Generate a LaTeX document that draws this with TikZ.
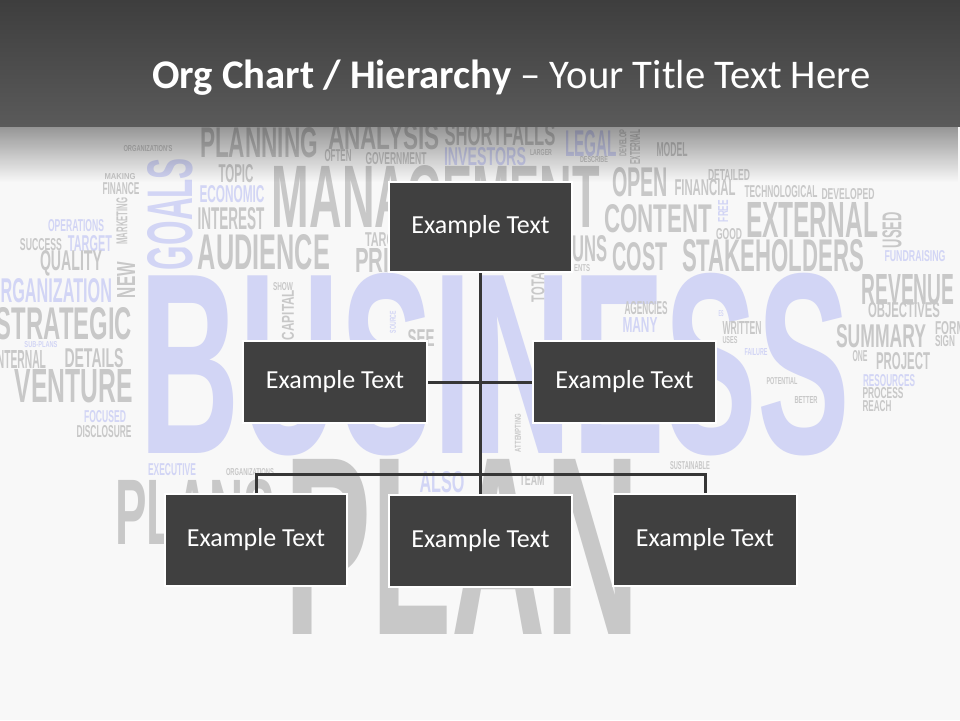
\documentclass[tikz,border=0pt]{standalone}
\usepackage{fontspec}
\usepackage{graphicx}
\setmainfont{Carlito}
\newfontfamily\cloudfont{Liberation Sans}
\usetikzlibrary{math,fadings}
\definecolor{slidebg}{HTML}{F8F8F8}
\definecolor{headtop}{HTML}{3E3E3E}
\definecolor{headbot}{HTML}{5A5A5A}
\definecolor{boxgray}{HTML}{404040}
\definecolor{linkgray}{HTML}{363636}
\definecolor{cgray}{HTML}{C8C8C8}
\definecolor{clav}{HTML}{D2D5F5}

\begin{document}
\begin{tikzpicture}[x=1pt,y=-1pt,
  cloud/.style={inner sep=0pt,font=\cloudfont\bfseries},
  orgbox/.style={fill=boxgray,draw=white,line width=2pt,text=white,
    font=\fontsize{26}{30}\selectfont,minimum width=\boxw pt,inner sep=0pt},
  link/.style={draw=linkgray,line width=3pt}]
\tikzmath{
\boxw=183;
\busy=474;
}
\useasboundingbox (0,0) rectangle (960,720);
\clip (0,0) rectangle (960,720);
\fill[slidebg] (0,0) rectangle (960,720);

%word cloud
\foreach \x/\y/\w/\h/\c/\r/\t [count=\n] in {
  495/365/710/180/clav/0/BUSINESS,
  462/547/355/175/cgray/0/PLAN,
  259/143/118/30/cgray/0/PLANNING,
  384/137/112/26/cgray/0/ANALYSIS,
  500/135/111/22/cgray/0/SHORTFALLS,
  485/157/82/18/clav/0/INVESTORS,
  591/144/52/26/clav/0/LEGAL,
  338/156/27/12/cgray/0/OFTEN,
  396/159/61/12/cgray/0/GOVERNMENT,
  541/153/22/6/cgray/0/LARGER,
  594/160/28/6/cgray/0/DESCRIBE,
  623/143/27/7/cgray/90/DEVELOP,
  635/147/35/10/cgray/90/EXTERNAL,
  672/150/31/14/cgray/0/MODEL,
  148/149/49/6/cgray/0/ORGANIZATION'S,
  236/174/35/18/cgray/0/TOPIC,
  436/197/328/62/cgray/0/MANAGEMENT,
  232/194/65/17/clav/0/ECONOMIC,
  231/219/67/22/cgray/0/INTEREST,
  264/252/132/35/cgray/0/AUDIENCE,
  170/214/112/45/clav/90/GOALS,
  120/177/31/6/cgray/0/MAKING,
  121/189/37/12/cgray/0/FINANCE,
  122/221/47/11/cgray/90/MARKETING,
  76/226/56/12/clav/0/OPERATIONS,
  41/245/42/12/cgray/0/SUCCESS,
  90/244/44/16/clav/0/TARGET,
  71/263/62/20/cgray/0/QUALITY,
  126/280/36/18/cgray/90/NEW,
  50/291/124/24/clav/0/ORGANIZATION,
  64/324/136/32/cgray/0/STRATEGIC,
  41/345/33/6/clav/0/SUB-PLANS,
  20/359/52/18/cgray/0/INTERNAL,
  94/358/59/19/cgray/0/DETAILS,
  74/386/118/33/cgray/0/VENTURE,
  105/417/42/12/clav/0/FOCUSED,
  104/432/55/12/cgray/0/DISCLOSURE,
  195/512/160/65/cgray/0/PLANS,
  172/470/48/12/clav/0/EXECUTIVE,
  250/472/48/7/cgray/0/ORGANIZATIONS,
  442/482/45/21/clav/0/ALSO,
  532/480/25/11/cgray/0/TEAM,
  690/466/40/8/cgray/0/SUSTAINABLE,
  518/433/38/6/cgray/90/ATTEMPTING,
  283/287/20/8/cgray/0/SHOW,
  288/315/50/12/cgray/90/CAPITAL,
  393/322/22/6/clav/90/SOURCE,
  421/338/27/17/cgray/0/SEE,
  387/240/44/14/cgray/0/TARGET,
  372/260/34/24/cgray/0/PRI,
  590/249/35/26/cgray/0/UNS,
  582/268/16/7/cgray/0/ENTS,
  538/284/36/13/cgray/90/TOTAL,
  640/182/56/29/cgray/0/OPEN,
  729/175/42/11/cgray/0/DETAILED,
  705/188/61/16/cgray/0/FINANCIAL,
  781/192/73/12/cgray/0/TECHNOLOGICAL,
  848/194/53/11/cgray/0/DEVELOPED,
  658/219/108/28/cgray/0/CONTENT,
  723/211/22/10/clav/90/FREE,
  729/234/26/11/cgray/0/GOOD,
  812/220/132/35/cgray/0/EXTERNAL,
  892/230/36/19/cgray/90/USED,
  640/257/55/28/cgray/0/COST,
  773/256/182/32/cgray/0/STAKEHOLDERS,
  915/256/61/11/clav/0/FUNDRAISING,
  908/290/93/30/cgray/0/REVENUE,
  904/310/72/15/cgray/0/OBJECTIVES,
  881/336/90/23/cgray/0/SUMMARY,
  950/328/30/13/cgray/0/FORM,
  945/341/20/11/cgray/0/SIGN,
  860/356/15/11/cgray/0/ONE,
  903/361/54/17/cgray/0/PROJECT,
  889/381/52/12/clav/0/RESOURCES,
  883/393/41/11/cgray/0/PROCESS,
  877/406/29/11/cgray/0/REACH,
  646/308/43/13/cgray/0/AGENCIES,
  640/325/35/15/clav/0/MANY,
  721/314/5/6/clav/0/ES,
  742/328/39/13/cgray/0/WRITTEN,
  730/340/15/7/cgray/0/USES,
  756/352/23/7/clav/0/FAILURE,
  782/381/31/7/cgray/0/POTENTIAL,
  806/400/23/7/cgray/0/BETTER}{
  \node[cloud,text=\c,rotate=\r] (word\n) at (\x,\y) {\resizebox{\w pt}{\h pt}{\t}};
}

%header band
\fill[black,fill opacity=0.4,path fading=south] (0,126) rectangle (960,182);
\fill[top color=headtop,bottom color=headbot] (0,0) rectangle (960,126);
\node[anchor=base west,inner sep=0pt,text=white,font=\fontsize{40.7}{48}\selectfont] (title)
  at (152,88) {\textbf{Org Chart / Hierarchy} – Your Title Text Here};

%boxes
\node[orgbox,minimum height=90pt] (top) at (480.5,227) {Example Text};
\node[orgbox,minimum height=82pt,minimum width=184pt] (midleft) at (335,382) {Example Text};
\node[orgbox,minimum height=82pt] (midright) at (624.5,382) {Example Text};
\node[orgbox,minimum height=92pt,minimum width=182pt] (botleft) at (256,540) {Example Text};
\node[orgbox,minimum height=92pt] (botmid) at (480.5,541) {Example Text};
\node[orgbox,minimum height=92pt,minimum width=184pt] (botright) at (705,540) {Example Text};

%connectors
\coordinate (bus) at (480.5,\busy);
\draw[link] (top.south) -- (botmid.north);
\draw[link] (midleft.east) -- (midright.west);
\draw[link] (botleft.north) |- (bus) -| (botright.north);

\end{tikzpicture}
\end{document}
